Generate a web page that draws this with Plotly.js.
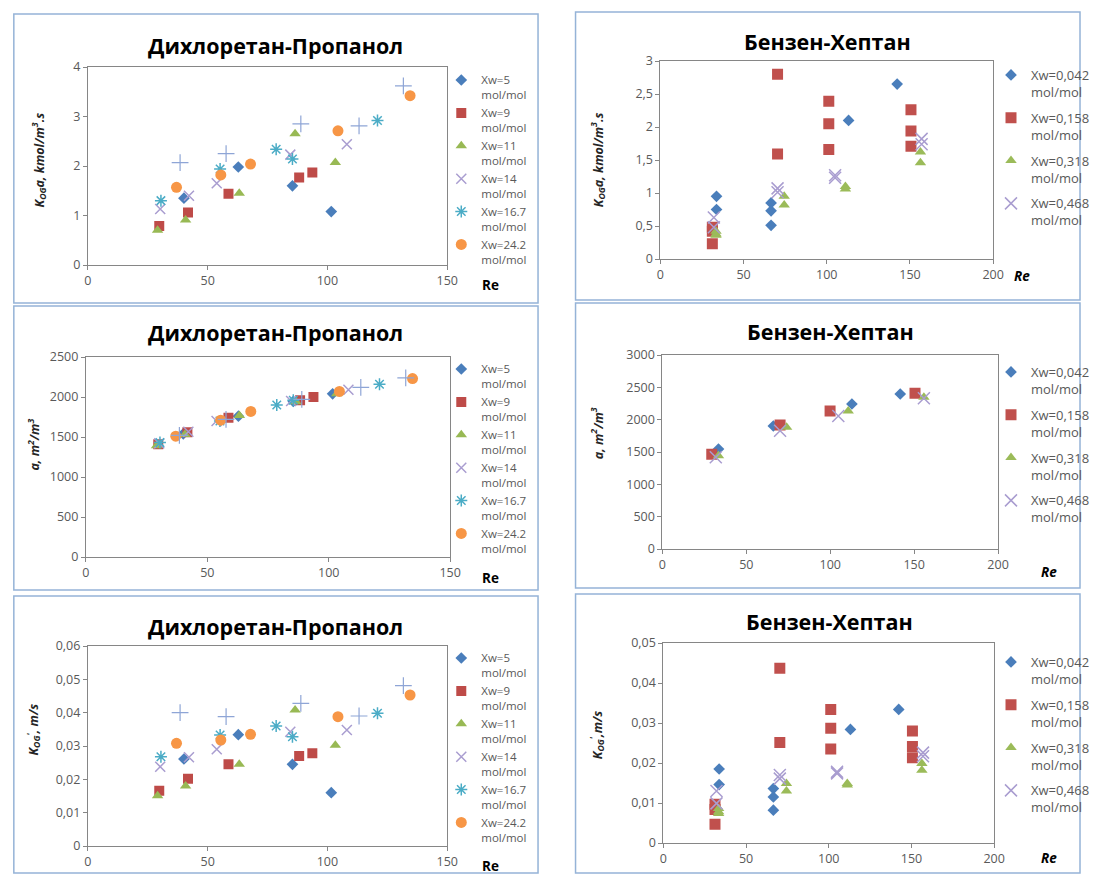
<!DOCTYPE html>
<html>
<head>
<meta charset="utf-8">
<script src="https://cdn.plot.ly/plotly-3.0.1.min.js"></script>
<style>html,body{margin:0;padding:0;background:#fff;}#chart{width:1095px;height:874px;}</style>
</head>
<body>
<div id="chart"></div>
<script>
// ---------- DATA: Дихлоретан-Пропанол (left column) ----------
const reL5    = [40.1, 62.8, 85.4, 101.6];
const reL9    = [29.8, 41.8, 58.7, 88.2, 93.7];
const reL11   = [29.1, 40.8, 63.2, 86.5, 103.3];
const reL14   = [30.2, 42.2, 53.8, 84.5, 108.1];
const reL167  = [30.5, 55.2, 78.6, 85.4, 120.9];
const reL242  = [37.0, 55.5, 67.9, 104.4, 134.5];
const reLplus = [38.5, 57.7, 88.9, 113.2, 131.7];

const kaL5    = [1.35, 1.98, 1.60, 1.08];
const kaL9    = [0.79, 1.06, 1.44, 1.77, 1.87];
const kaL11   = [0.70, 0.91, 1.45, 2.65, 2.07];
const kaL14   = [1.13, 1.40, 1.65, 2.23, 2.44];
const kaL167  = [1.30, 1.94, 2.34, 2.14, 2.92];
const kaL242  = [1.57, 1.82, 2.04, 2.71, 3.42];
const kaLplus = [2.07, 2.25, 2.85, 2.81, 3.62];

const aL5    = [1540, 1760, 1945, 2040];
const aL9    = [1410, 1560, 1740, 1960, 2000];
const aL11   = [1390, 1530, 1770, 1940, 2040];
const aL14   = [1420, 1565, 1700, 1950, 2090];
const aL167  = [1430, 1700, 1900, 1960, 2160];
const aL242  = [1510, 1710, 1820, 2070, 2230];
const aLplus = [1520, 1720, 1970, 2120, 2240];

const kL5    = [0.0261, 0.0334, 0.0245, 0.0160];
const kL9    = [0.0166, 0.0202, 0.0245, 0.0270, 0.0278];
const kL11   = [0.0151, 0.0180, 0.0245, 0.0408, 0.0302];
const kL14   = [0.0238, 0.0266, 0.0290, 0.0343, 0.0348];
const kL167  = [0.0268, 0.0333, 0.0360, 0.0328, 0.0398];
const kL242  = [0.0308, 0.0318, 0.0335, 0.0388, 0.0453];
const kLplus = [0.0400, 0.0388, 0.0428, 0.0390, 0.0481];

const namesL = ['Xw=5<br>mol/mol', 'Xw=9<br>mol/mol', 'Xw=11<br>mol/mol',
                'Xw=14<br>mol/mol', 'Xw=16.7<br>mol/mol', 'Xw=24.2<br>mol/mol'];

// ---------- DATA: Бензен-Хептан (right column) ----------
const reR042 = [33.7, 33.7, 66.5, 66.5, 66.5, 113.1, 142.3];
const reR158 = [31.2, 31.2, 31.2, 70.4, 70.4, 101.2, 101.2, 101.2, 150.6, 150.6, 150.6];
const reR318 = [33.4, 33.4, 33.4, 74.4, 74.4, 111.2, 111.2, 156.3, 156.3];
const reR468 = [32.1, 32.1, 70.4, 70.4, 105.0, 105.0, 157.0, 157.0];

const kaR042 = [0.95, 0.75, 0.85, 0.73, 0.51, 2.10, 2.65];
const kaR158 = [0.48, 0.42, 0.23, 2.80, 1.59, 2.39, 2.05, 1.66, 2.26, 1.94, 1.71];
const kaR318 = [0.42, 0.38, 0.36, 0.95, 0.82, 1.10, 1.06, 1.62, 1.46];
const kaR468 = [0.63, 0.48, 1.07, 1.01, 1.27, 1.23, 1.82, 1.74];

const kR042 = [0.0185, 0.0146, 0.0136, 0.0115, 0.0082, 0.0284, 0.0334];
const kR158 = [0.0097, 0.0084, 0.0047, 0.0437, 0.0251, 0.0334, 0.0287, 0.0235, 0.0280, 0.0241, 0.0213];
const kR318 = [0.0086, 0.0078, 0.0074, 0.0149, 0.0130, 0.0149, 0.0145, 0.0199, 0.0182];
const kR468 = [0.0130, 0.0099, 0.0170, 0.0161, 0.0178, 0.0174, 0.0226, 0.0217];

const reA042 = [33.4, 66.1, 112.9, 141.7];
const reA158 = [29.4, 70.1, 99.9, 150.5];
const reA318 = [33.4, 74.0, 110.7, 155.8];
const reA468 = [31.8, 70.1, 104.8, 155.8];
const aR042 = [1546, 1902, 2242, 2397];
const aR158 = [1464, 1918, 2134, 2407];
const aR318 = [1443, 1882, 2134, 2346];
const aR468 = [1418, 1830, 2057, 2330];

const namesR = ['Xw=0,042<br>mol/mol', 'Xw=0,158<br>mol/mol', 'Xw=0,318<br>mol/mol', 'Xw=0,468<br>mol/mol'];

const titleL = 'Дихлоретан-Пропанол';
const titleR = 'Бензен-Хептан';

// ---------- STYLES ----------
const W = 1095, H = 874;
const FONT = 'Open Sans, Noto Sans, sans-serif';
const px = v => v / W;
const py = v => 1 - v / H;

const stL = [
  {symbol: 'diamond', color: '#4A7EBB', size: 9},
  {symbol: 'square', color: '#BE4B48', size: 10},
  {symbol: 'triangle-up', color: '#98B954', size: 10},
  {symbol: 'x-thin-open', color: '#A99DD0', size: 10, lw: 1.5},
  {symbol: 'asterisk-open', color: '#4BACC6', size: 10, lw: 1.5},
  {symbol: 'circle', color: '#F79646', size: 11}
];
const stPlus = {symbol: 'cross-thin-open', color: '#8EA5D6', size: 12, lw: 1.2};
const stR = [
  {symbol: 'diamond', color: '#4A7EBB', size: 9},
  {symbol: 'square', color: '#C0504D', size: 11},
  {symbol: 'triangle-up', color: '#9BBB59', size: 10},
  {symbol: 'x-thin-open', color: '#A99DD0', size: 12, lw: 1.5}
];

const traces = [];
function add(ax, x, y, st, name, leg, show) {
  const m = {symbol: st.symbol, color: st.color, size: st.size};
  if (st.lw) m.line = {width: st.lw, color: st.color};
  else m.line = {width: 0};
  traces.push({
    type: 'scatter', mode: 'markers', x: x, y: y, name: name,
    xaxis: 'x' + ax, yaxis: 'y' + ax, marker: m,
    legend: leg, legendgroup: leg + name, showlegend: show
  });
}

const leftX = [reL5, reL9, reL11, reL14, reL167, reL242];
const leftSets = [
  {ax: '', leg: 'legend', ys: [kaL5, kaL9, kaL11, kaL14, kaL167, kaL242], plus: kaLplus},
  {ax: '3', leg: 'legend3', ys: [aL5, aL9, aL11, aL14, aL167, aL242], plus: aLplus},
  {ax: '5', leg: 'legend5', ys: [kL5, kL9, kL11, kL14, kL167, kL242], plus: kLplus}
];
leftSets.forEach(s => {
  s.ys.forEach((y, i) => add(s.ax, leftX[i], y, stL[i], namesL[i], s.leg, true));
  add(s.ax, reLplus, s.plus, stPlus, 'plus', s.leg, false);
});

const rightSets = [
  {ax: '2', leg: 'legend2', xs: [reR042, reR158, reR318, reR468], ys: [kaR042, kaR158, kaR318, kaR468]},
  {ax: '4', leg: 'legend4', xs: [reA042, reA158, reA318, reA468], ys: [aR042, aR158, aR318, aR468]},
  {ax: '6', leg: 'legend6', xs: [reR042, reR158, reR318, reR468], ys: [kR042, kR158, kR318, kR468]}
];
rightSets.forEach(s => {
  s.ys.forEach((y, i) => add(s.ax, s.xs[i], y, stR[i], namesR[i], s.leg, true));
});

// ---------- LAYOUT ----------
const layout = {
  width: W, height: H,
  margin: {l: 0, r: 0, t: 0, b: 0},
  paper_bgcolor: '#ffffff', plot_bgcolor: '#ffffff',
  separators: ', ',
  font: {family: FONT, size: 12, color: '#595959'},
  showlegend: true,
  shapes: [], annotations: []
};

// panel: [axis suffix, x0, x1, y0(top), y1(bottom), xmax, xdtick, ymax, ydtick]
const panels = [
  ['', 89, 453, 67, 265, 150, 50, 4, 1],
  ['2', 669, 1006, 61, 259, 200, 50, 3, 0.5],
  ['3', 87, 456, 357, 557, 150, 50, 2500, 500],
  ['4', 671, 1011, 355, 549, 200, 50, 3000, 500],
  ['5', 89, 453, 646, 846, 150, 50, 0.06, 0.01],
  ['6', 672, 1007, 643, 843, 200, 50, 0.05, 0.01]
];
panels.forEach(p => {
  const common = {
    showline: true, linecolor: '#868686', linewidth: 1, mirror: true,
    ticks: 'outside', ticklen: 4, tickcolor: '#868686', tickwidth: 1,
    showgrid: false, zeroline: false, fixedrange: true,
    tickfont: {family: FONT, size: 12.5, color: '#595959'}, tick0: 0
  };
  layout['xaxis' + p[0]] = Object.assign({}, common, {
    domain: [px(p[1]), px(p[2])], range: [0, p[5]], dtick: p[6], anchor: 'y' + p[0]
  });
  layout['yaxis' + p[0]] = Object.assign({}, common, {
    domain: [py(p[4]), py(p[3])], range: [0, p[7]], dtick: p[8], anchor: 'x' + p[0]
  });
});

// panel frames
const frames = [[14, 545, 14, 303], [583, 1094, 12, 300], [14, 545, 306, 590],
                [583, 1094, 303, 588], [14, 545, 596, 873], [583, 1094, 594, 873]];
frames.forEach(f => layout.shapes.push({
  type: 'rect', xref: 'paper', yref: 'paper',
  x0: px(f[0]), x1: px(f[1]), y0: py(f[3]), y1: py(f[2]),
  line: {color: '#95B3D7', width: 1.5}, fillcolor: 'rgba(0,0,0,0)'
}));

// legends: [name, x, y, groupgap, fontsize]
const legPos = [['legend', 447, 66, 0, 11.5], ['legend2', 1004, 60, 6, 13], ['legend3', 447, 355, 0, 11.5],
                ['legend4', 1004, 357, 6, 13], ['legend5', 447, 644, 0, 11.5], ['legend6', 1004, 647, 6, 13]];
legPos.forEach(l => {
  layout[l[0]] = {
    x: px(l[1]), y: py(l[2]), xanchor: 'left', yanchor: 'top',
    bgcolor: 'rgba(0,0,0,0)', borderwidth: 0, itemwidth: 30,
    font: {family: FONT, size: l[4], color: '#595959'},
    valign: 'top', traceorder: 'grouped', tracegroupgap: l[3], itemclick: false
  };
});

// titles
const titles = [[titleL, 279, 45], [titleR, 838, 42], [titleL, 279, 333],
                [titleR, 841, 331], [titleL, 279, 626], [titleR, 840, 621]];
titles.forEach(t => layout.annotations.push({
  text: '<b>' + t[0] + '</b>', xref: 'paper', yref: 'paper', x: px(t[1]), y: py(t[2]),
  xanchor: 'center', yanchor: 'middle', showarrow: false,
  font: {family: FONT, size: 21.5, color: '#000000'}
}));

// Re labels
const reLabels = [['<b>Re</b>', 497, 285], ['<b><i>Re</i></b>', 1035, 276], ['<b>Re</b>', 497, 578],
                  ['<b><i>Re</i></b>', 1063, 572], ['<b>Re</b>', 497, 866], ['<b><i>Re</i></b>', 1063, 858]];
reLabels.forEach(t => layout.annotations.push({
  text: t[0], xref: 'paper', yref: 'paper', x: px(t[1]), y: py(t[2]),
  xanchor: 'center', yanchor: 'middle', showarrow: false,
  font: {family: FONT, size: 13.5, color: '#000000'}
}));

// y titles
const yTitles = [
  ['<b><i>K<sub>OG</sub>a, kmol/m<sup>3</sup>.s</i></b>', 40, 160],
  ['<b><i>K<sub>OG</sub>a, kmol/m<sup>3</sup>.s</i></b>', 606, 160],
  ['<b><i>a, m<sup>2</sup>/m<sup>3</sup></i></b>', 34, 445],
  ['<b><i>a, m<sup>2</sup>/m<sup>3</sup></i></b>', 605, 433],
  ['<b><i>K<sub>OG</sub><sup>\'</sup>, m/s</i></b>', 34, 730],
  ['<b><i>K<sub>OG</sub><sup>\'</sup>,m/s</i></b>', 605, 735]
];
yTitles.forEach(t => layout.annotations.push({
  text: t[0], xref: 'paper', yref: 'paper', x: px(t[1]), y: py(t[2]),
  xanchor: 'center', yanchor: 'middle', showarrow: false, textangle: -90,
  font: {family: FONT, size: 12.5, color: '#262626'}
}));

Plotly.newPlot('chart', traces, layout, {staticPlot: true, displayModeBar: false});
</script>
</body>
</html>
